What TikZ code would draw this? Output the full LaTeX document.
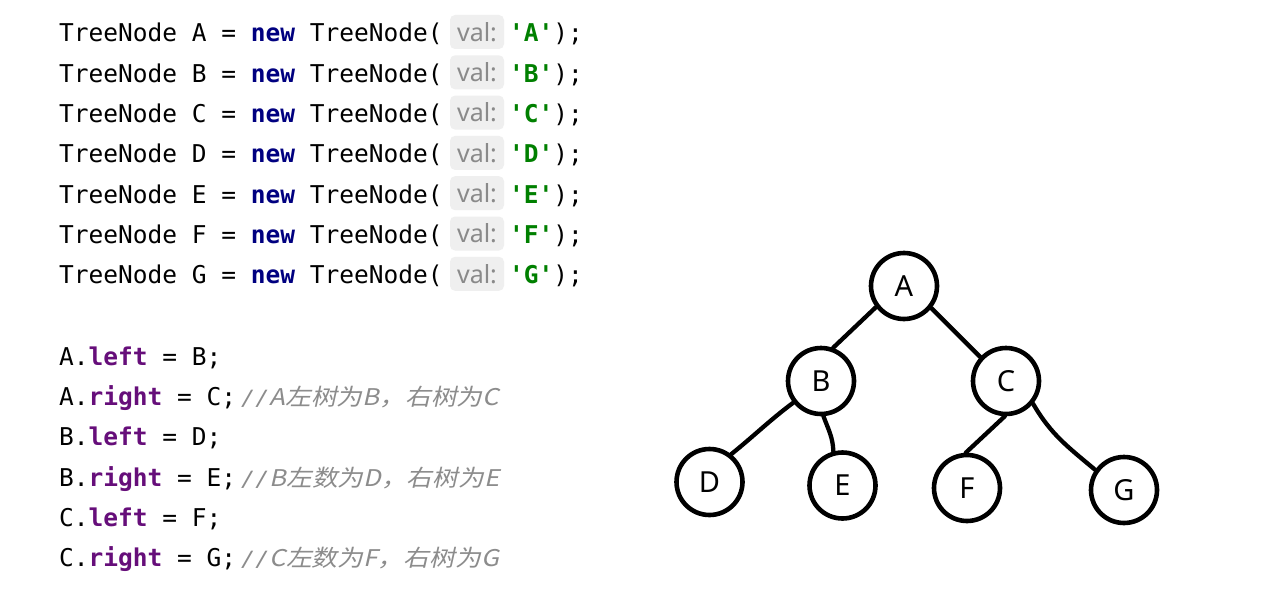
\documentclass[tikz,border=0pt]{standalone}
\usepackage{fontspec}
\setmonofont{DejaVu Sans Mono}
\setsansfont{Noto Sans}
\newfontfamily\cjkit[FakeSlant=0.2]{Noto Sans CJK SC}
\definecolor{kwblue}{HTML}{000080}
\definecolor{strgreen}{HTML}{008000}
\definecolor{fieldpurple}{HTML}{660E7A}
\definecolor{cmtgray}{HTML}{8C8C8C}
\definecolor{hintbg}{HTML}{EFEFEF}
\definecolor{hinttext}{HTML}{8A8A8A}
\tikzset{
  codetxt/.style={inner sep=0pt, anchor=base west, font=\ttfamily\fontsize{24.5}{29}\selectfont, text=black},
  hintbox/.style={fill=hintbg, rounded corners=5pt, minimum width=54pt, minimum height=34pt, inner sep=0pt,
    font=\sffamily\fontsize{25}{29}\selectfont, text=hinttext},
  cmt/.style={inner sep=0pt, anchor=base west, text=cmtgray},
  tnode/.style={circle, draw=black, line width=4.6pt, minimum size=66pt, inner sep=0pt,
    font=\sffamily\fontsize{29}{32}\selectfont},
  tedge/.style={line width=4.3pt, line cap=round}
}
\newcommand{\kwnew}{\textbf{\color{kwblue}new}}
\newcommand{\fld}[1]{\textbf{\color{fieldpurple}#1}}
\newcommand{\cmttext}[1]{\resizebox{258pt}{\height}{{\ttfamily\itshape\fontsize{21}{25}\selectfont//}{\cjkit\fontsize{23}{27}\selectfont #1}}}
\begin{document}
\begin{tikzpicture}[x=1pt,y=-1pt]
\useasboundingbox (0,0) rectangle (1263,610);
\fill[white] (0,0) rectangle (1263,610);
% declarations
\foreach \L [count=\i from 0] in {A,B,C,D,E,F,G} {
  \node[codetxt] (decl\L) at (59,{42+\i*40.3}) {TreeNode \L{} = \kwnew{} TreeNode(};
  \node[hintbox] (hint\L) at (477,{32+\i*40.3}) {val:};
  \node[codetxt] (arg\L) at (509,{42+\i*40.3}) {\textbf{\color{strgreen}'\L'});};
}
% assignments
\node[codetxt] (l1) at (59,365) {A.\fld{left} = B;};
\node[codetxt] (l2) at (59,405.3) {A.\fld{right} = C;};
\node[cmt] (c2) at (241,405.3) {\cmttext{A左树为B，右树为C}};
\node[codetxt] (l3) at (59,445.6) {B.\fld{left} = D;};
\node[codetxt] (l4) at (59,486) {B.\fld{right} = E;};
\node[cmt] (c4) at (241,486) {\cmttext{B左数为D，右树为E}};
\node[codetxt] (l5) at (59,526.3) {C.\fld{left} = F;};
\node[codetxt] (l6) at (59,566.6) {C.\fld{right} = G;};
\node[cmt] (c6) at (241,566.6) {\cmttext{C左数为F，右树为G}};
% tree
\node[tnode] (A) at (904,286) {A};
\node[tnode] (B) at (821,381) {B};
\node[tnode] (C) at (1006,381) {C};
\node[tnode] (D) at (709.5,482) {D};
\node[tnode] (E) at (842.5,485.5) {E};
\node[tnode] (F) at (967,488) {F};
\node[tnode] (G) at (1124,490) {G};
\draw[tedge] (A.217) -- (B.70);
\draw[tedge] (A.321) -- (C.137);
\draw[tedge] (B.218) .. controls (770,420) and (755,435) .. (D.52);
\draw[tedge] (B.274) to[out=-70,in=92] (E.105);
\draw[tedge] (C.268) -- (F.92);
\draw[tedge] (C.320) to[out=-60,in=140] (G.145);
\end{tikzpicture}
\end{document}
